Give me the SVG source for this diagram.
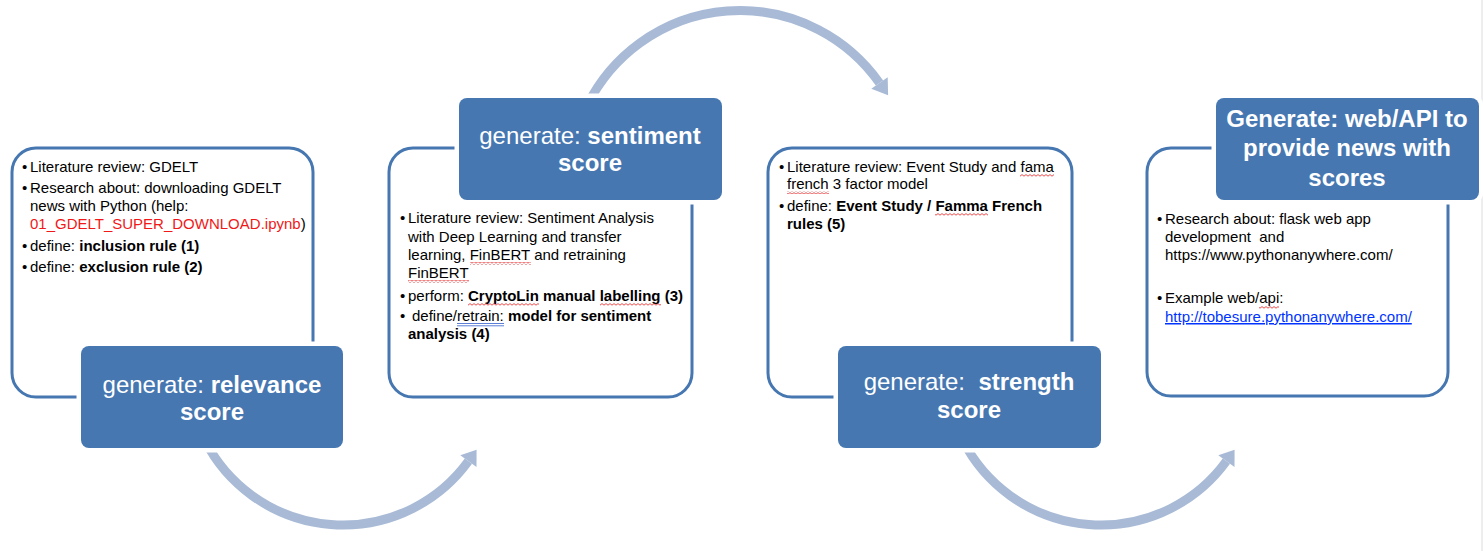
<svg xmlns="http://www.w3.org/2000/svg" width="1483" height="551" viewBox="0 0 1483 551">
<style>
.frame{fill:#fff;stroke:#4677B1;stroke-width:3}
.head{fill:#4677B1;stroke:#fff;stroke-width:9;paint-order:stroke}
.ht{font-family:"Liberation Sans",Arial,sans-serif;font-size:24px;fill:#fff;text-anchor:middle}
.bt{font-family:"Liberation Sans",Arial,sans-serif;font-size:15px;fill:#000}
.b{font-weight:bold}
.arc{fill:none;stroke:#A8BAD6;stroke-width:9}
.tip{fill:#A8BAD6}
.red{fill:#F01818}
.link{fill:#0033FF;text-decoration:underline}
.sq{fill:url(#wave)}
</style>
<defs>
<pattern id="wave" width="4" height="3" patternUnits="userSpaceOnUse">
<path d="M0 2.2 L2 0.6 L4 2.2" fill="none" stroke="#E02020" stroke-width="0.8"/>
</pattern>
</defs>
<line x1="1482" y1="0" x2="1482" y2="551" stroke="#DCDCDC" stroke-width="1"/>
<g id="connectors">
<path class="arc" d="M204.7 440 A155 155 0 0 0 468.4 461.1"/>
<polygon class="tip" points="476.6,449.8 476.5,467 460.3,455.2"/>
<path class="arc" d="M587.4 105 A170.5 170.5 0 0 1 879.5 83"/>
<polygon class="tip" points="888.1,95.3 887.7,77.2 871.3,88.8"/>
<path class="arc" d="M962.7 440 A155 155 0 0 0 1226.4 461.1"/>
<polygon class="tip" points="1234.6,449.8 1234.5,467 1218.3,455.2"/>
</g>
<g id="step1">
<rect class="frame" x="12" y="148" width="301" height="249" rx="24"/>
<text class="bt" x="22" y="172">•</text><text class="bt" x="30" y="172">Literature review: GDELT</text>
<text class="bt" x="22" y="193">•</text><text class="bt" x="30" y="193">Research about: downloading GDELT</text>
<text class="bt" x="30" y="211">news with Python (help:</text>
<text class="bt" x="30" y="229"><tspan class="red">01_GDELT_SUPER_DOWNLOAD.ipynb</tspan>)</text>
<text class="bt" x="22" y="251">•</text><text class="bt" x="30" y="251">define: <tspan class="b">inclusion rule (1)</tspan></text>
<text class="bt" x="22" y="272">•</text><text class="bt" x="30" y="272">define: <tspan class="b">exclusion rule (2)</tspan></text>
<rect class="head" x="81" y="346" width="262" height="102" rx="8"/>
<text class="ht" x="212" y="393">generate: <tspan class="b">relevance</tspan></text>
<text class="ht b" x="212" y="420">score</text>
</g>
<g id="step2">
<rect class="frame" x="389" y="148" width="303" height="249" rx="24"/>
<rect class="head" x="459" y="98" width="263" height="102" rx="8"/>
<text class="ht" x="590" y="144">generate: <tspan class="b">sentiment</tspan></text>
<text class="ht b" x="590" y="171">score</text>
<text class="bt" x="400" y="223">•</text><text class="bt" x="408" y="223">Literature review: Sentiment Analysis</text>
<text class="bt" x="408" y="242">with Deep Learning and transfer</text>
<text class="bt" x="408" y="260">learning, FinBERT and retraining</text>
<text class="bt" x="408" y="278">FinBERT</text>
<text class="bt" x="400" y="301">•</text><text class="bt" x="408" y="301">perform: <tspan class="b">CryptoLin manual labelling (3)</tspan></text>
<text class="bt" x="400" y="321">•</text><text class="bt" x="412" y="321">define/retrain: <tspan class="b">model for sentiment</tspan></text>
<text class="bt b" x="408" y="339">analysis (4)</text>
<rect class="sq" x="470" y="262" width="61" height="3"/>
<rect class="sq" x="408" y="280" width="61" height="3"/>
<rect class="sq" x="468" y="303" width="71" height="3"/>
<rect class="sq" x="600" y="303" width="61" height="3"/>
<path d="M457 323.5 H504 M457 325.8 H504" stroke="#4A6FD0" stroke-width="0.9" fill="none"/>
</g>
<g id="step3">
<rect class="frame" x="768" y="148" width="304" height="249" rx="24"/>
<text class="bt" x="779" y="172">•</text><text class="bt" x="787" y="172">Literature review: Event Study and fama</text>
<text class="bt" x="787" y="189">french 3 factor model</text>
<text class="bt" x="779" y="211">•</text><text class="bt" x="787" y="211">define: <tspan class="b">Event Study / Famma French</tspan></text>
<text class="bt b" x="787" y="229">rules (5)</text>
<rect class="sq" x="1020" y="174" width="34" height="3"/>
<rect class="sq" x="787" y="191" width="42" height="3"/>
<rect class="sq" x="935" y="213" width="53" height="3"/>
<rect class="head" x="838" y="346" width="263" height="102" rx="8"/>
<text class="ht" x="969" y="390" xml:space="preserve">generate:  <tspan class="b">strength</tspan></text>
<text class="ht b" x="969" y="418">score</text>
</g>
<g id="step4">
<rect class="frame" x="1147" y="148" width="301" height="248" rx="24"/>
<rect class="head" x="1216" y="98" width="263" height="102" rx="8"/>
<text class="ht b" x="1347" y="127">Generate: web/API to</text>
<text class="ht b" x="1347" y="156">provide news with</text>
<text class="ht b" x="1347" y="186">scores</text>
<text class="bt" x="1157" y="224">•</text><text class="bt" x="1165" y="224">Research about: flask web app</text>
<text class="bt" x="1165" y="242" xml:space="preserve">development  and</text>
<text class="bt" x="1165" y="260">https://www.pythonanywhere.com/</text>
<text class="bt" x="1157" y="303">•</text><text class="bt" x="1165" y="303">Example web/api:</text>
<text class="bt link" x="1165" y="322">http://tobesure.pythonanywhere.com/</text>
<rect class="sq" x="1259" y="306" width="20" height="3"/>
</g>
</svg>
